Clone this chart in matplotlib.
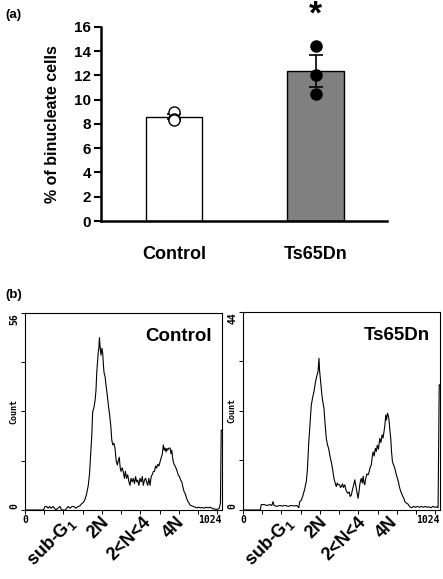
import numpy as np
import matplotlib
matplotlib.use("Agg")
import matplotlib.pyplot as plt

plt.rcParams['font.family'] = ['Liberation Sans', 'DejaVu Sans']
plt.rcParams['font.weight'] = 'bold'
plt.rcParams['mathtext.default'] = 'regular'

# ---- pannello (a): barre
gruppi = ["Control", "Ts65Dn"]
medie = [8.6, 12.4]
errori = [0.2, 1.33]
colori_barre = ["white", "#808080"]
punti_control = [8.95, 8.45, 8.3]
punti_ts = [14.4, 12.0, 10.5]

# ---- pannello (b): istogrammi DNA
etichette_fasi = ["sub-G$_1$", "2N", "2<N<4", "4N"]
pos_fasi_control = [250, 426, 640, 816]
pos_fasi_ts = [250, 426, 624, 790]

canali_control = [0, 96, 104, 112, 120, 128, 136, 146, 160, 182, 190, 210, 224, 234, 244, 254, 264, 276, 286, 295,
                  304, 312, 320, 329, 335, 341, 347, 352, 358, 364, 369, 373, 377, 381, 384, 387, 391, 395, 400, 404,
                  408, 411, 416, 421, 427, 433, 440, 446, 451, 456, 462, 468, 474, 480, 485, 490, 495, 499, 505, 511,
                  517, 522, 528, 534, 540, 546, 551, 557, 563, 569, 575, 580, 586, 592, 598, 604, 610, 615, 621, 627,
                  632, 638, 644, 650, 656, 661, 667, 673, 679, 684, 690, 696, 702, 708, 714, 719, 724, 728, 733, 737,
                  742, 746, 750, 754, 759, 763, 767, 771, 775, 780, 785, 791, 797, 803, 809, 815, 821, 827, 834, 840,
                  846, 852, 858, 866, 875, 885, 893, 903, 912, 922, 932, 942, 952, 962, 972, 982, 992, 1002, 1010, 1016,
                  1020, 1024]
conteggi_control = [0, 0, 1, 1, 0.5, 1, 0.5, 1, 0, 1, 0, 0, 1, 0.5, 1, 1, 0.5, 1, 1.2, 1.8,
                    2.2, 3.0, 4.5, 7, 10, 15.6, 21, 28, 29, 31, 34, 39, 42, 45, 46, 49, 46, 44, 46, 44.5,
                    41, 39, 38, 35.5, 33, 30, 27, 24, 20, 18.5, 19, 17.6, 14, 12.8, 14, 15, 12, 11, 12, 10.8,
                    9, 11, 9, 10, 8, 7, 9, 8, 9, 7.5, 9.5, 8, 8.5, 7, 9, 8, 9.5, 7, 8.5, 9,
                    8, 7, 9, 7, 9.5, 10, 10.9, 11, 12.5, 11.9, 13, 12.5, 13.7, 15, 16, 18.5, 17, 17.6, 16.5, 17.5,
                    17, 17.5, 17.6, 17.6, 16, 17, 15, 13.7, 13, 12.5, 11.9, 11, 9.9, 9.5, 8.5, 8.0, 6.5, 5.2, 4.5, 3.3,
                    2.5, 2, 1.4, 1.2, 1, 0.8, 0.6, 0.8, 0.6, 0.7, 0.5, 0.8, 0.6, 0.8, 0.5, 0.3, 0.2, 0.2, 0.5, 2,
                    22.7, 22.7]

canali_ts = [0, 90, 95, 110, 125, 140, 150, 156, 162, 175, 190, 205, 220, 235, 250, 265, 280, 290, 295, 304,
             312, 320, 329, 335, 341, 348, 355, 362, 369, 375, 381, 385, 390, 395, 398, 402, 406, 410, 415, 421,
             427, 433, 439, 445, 452, 459, 466, 473, 479, 485, 490, 494, 502, 507, 511, 517, 522, 529, 535, 540,
             546, 552, 557, 563, 569, 575, 581, 586, 590, 594, 598, 603, 607, 611, 615, 620, 625, 629, 633, 638,
             644, 650, 656, 661, 667, 671, 676, 682, 688, 693, 698, 704, 711, 717, 723, 728, 733, 738, 742, 746,
             751, 755, 758, 763, 768, 772, 777, 783, 789, 796, 803, 809, 815, 823, 832, 837, 841, 850, 858, 867,
             877, 887, 897, 907, 917, 927, 937, 947, 957, 967, 977, 987, 997, 1007, 1014, 1020, 1024]
conteggi_ts = [0, 0, 1.2, 1.2, 1, 1.2, 1, 1.85, 1, 0.8, 1, 0.9, 1, 0.8, 1, 0.9, 1, 0.5, 1.85, 2.2,
               3.3, 4.5, 6.3, 9, 14.4, 19, 23.3, 25, 26.3, 28, 29.3, 30, 30.7, 33.7, 31, 29.3, 27.5, 25.6, 24, 22.6,
               19, 15.9, 14.5, 13.7, 12, 10.7, 9, 7.0, 6, 5.2, 6, 5.6, 5.6, 5, 5.2, 5.8, 5, 5.6, 4.5, 4,
               3.7, 4, 3, 3.3, 4.5, 5.5, 6.7, 5.5, 4.4, 3.5, 2.6, 4, 5.6, 6.5, 7.0, 6, 7.5, 6, 5.6, 7,
               8, 7.8, 8.5, 9.5, 10, 11.5, 12.9, 12, 13.7, 13, 14.4, 13.5, 15.9, 15, 16.7, 16, 17.4, 19, 21.1, 20,
               21.5, 21, 20.4, 18, 15.9, 13, 10.7, 10, 9.3, 8, 7.0, 6, 4.8, 3.8, 2.9, 2.5, 1.85, 1.5, 1.3, 0.7,
               0.5, 0.8, 0.6, 0.8, 0.6, 0.8, 0.6, 0.8, 0.6, 0.7, 0.5, 0.8, 0.6, 0.7, 0.5, 27.8, 27.8]

fig = plt.figure(figsize=(4.43, 5.79), dpi=100)

# ---------------- (a)
ax = fig.add_axes([0.228, 0.6183, 0.6456, 0.3351])
x = np.arange(len(gruppi))
ax.bar(x, medie, width=0.4, color=colori_barre, edgecolor="black", linewidth=1.0, zorder=2)
ax.errorbar(x, medie, yerr=errori, fmt="none", ecolor="black", elinewidth=1.2, capsize=5, capthick=1.2, zorder=3)
ax.plot([0] * len(punti_control), punti_control, "o", ms=8, mfc="white", mec="black", mew=1.0, zorder=4)
ax.plot([1] * len(punti_ts), punti_ts, "o", ms=8, mfc="black", mec="black", zorder=4)
ax.text(1, 16.95, "*", ha="center", va="center", fontsize=24, fontweight="bold")
ax.set_xlim(-0.515, 1.505)
ax.set_ylim(0, 16)
ax.set_yticks(range(0, 17, 2))
ax.set_xticks(x)
ax.set_xticklabels(gruppi, fontsize=13, fontweight="bold")
ax.tick_params(axis="x", length=0, pad=18)
ax.tick_params(axis="y", length=5, width=1.5, labelsize=11, pad=2)
for s in ["top", "right"]:
    ax.spines[s].set_visible(False)
for s in ["left", "bottom"]:
    ax.spines[s].set_linewidth(1.8)
ax.set_ylabel("% of binucleate cells", fontsize=11.5, fontweight="bold", labelpad=10)
fig.text(0.012, 0.974, "(a)", fontsize=9.5, fontweight="bold", va="center")

# ---------------- (b)
def istogramma(pos, canali, conteggi, ymax, nome, pos_fasi):
    axh = fig.add_axes(pos)
    axh.plot(canali, conteggi, color="black", lw=0.8)
    axh.set_xlim(0, 1024)
    axh.set_ylim(0, ymax)
    axh.set_xticks(range(0, 1001, 100))
    axh.set_yticks(np.linspace(0, ymax, 5))
    axh.tick_params(length=3, width=0.7, labelbottom=False, labelleft=False)
    for s in axh.spines.values():
        s.set_linewidth(0.8)
    axh.text(0.0, -0.025, "0", transform=axh.transAxes, ha="center", va="top",
             fontsize=7, family="DejaVu Sans Mono", fontweight="bold")
    axh.text(1.0, -0.025, "1024", transform=axh.transAxes, ha="right", va="top",
             fontsize=7, family="DejaVu Sans Mono", fontweight="bold")
    axh.text(-0.055, 0.02, "0", transform=axh.transAxes, ha="center", va="center", rotation=90,
             fontsize=7, family="DejaVu Sans Mono", fontweight="bold")
    axh.text(-0.055, 0.97, str(ymax), transform=axh.transAxes, ha="center", va="center", rotation=90,
             fontsize=7, family="DejaVu Sans Mono", fontweight="bold")
    axh.text(-0.055, 0.5, "Count", transform=axh.transAxes, ha="center", va="center", rotation=90,
             fontsize=6, family="DejaVu Sans Mono", fontweight="bold")
    axh.text(0.95, 0.86, nome, transform=axh.transAxes, ha="right", va="baseline",
             fontsize=13.5, fontweight="bold")
    for lab, p in zip(etichette_fasi, pos_fasi):
        axh.text(p, -0.05, lab, transform=axh.get_xaxis_transform(), ha="right", va="center",
                 rotation=45, rotation_mode="anchor", fontsize=13, fontweight="bold")
    return axh

istogramma([0.0564, 0.1192, 0.4447, 0.3402], canali_control, conteggi_control, 56, "Control", pos_fasi_control)
istogramma([0.5485, 0.1192, 0.4447, 0.342], canali_ts, conteggi_ts, 44, "Ts65Dn", pos_fasi_ts)
fig.text(0.012, 0.49, "(b)", fontsize=9.5, fontweight="bold", va="center")

fig.savefig("out.png", dpi=100)
